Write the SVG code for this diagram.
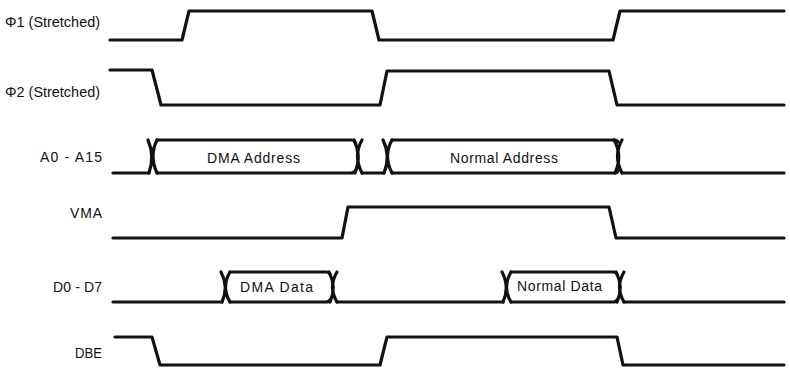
<svg xmlns="http://www.w3.org/2000/svg" width="790" height="369" viewBox="0 0 790 369">
<style>
.w{fill:none;stroke:#111;stroke-width:3.2;stroke-linejoin:round;stroke-linecap:round}
.t{font-family:"Liberation Sans",Arial,sans-serif;font-size:14px;fill:#111}
</style>
<rect width="790" height="369" fill="#fff"/>
<g id="phi1">
<text class="t" x="5" y="27" textLength="95" lengthAdjust="spacingAndGlyphs">Φ1 (Stretched)</text>
<path class="w" d="M110,40 H182 L189,11 H372 L379,40 H613 L620,11 H784"/>
</g>
<g id="phi2">
<text class="t" x="5" y="97" textLength="95" lengthAdjust="spacingAndGlyphs">Φ2 (Stretched)</text>
<path class="w" d="M110,70 H152 L161,105 H380 L387,71 H609 L617,105 H784"/>
</g>
<g id="addr">
<text class="t" x="40" y="162" textLength="62" lengthAdjust="spacing">A0 - A15</text>
<path class="w" d="M113,173 H149"/>
<path class="w" d="M148,140 Q155,156 149,173 M157,140 Q149,156 157,173"/>
<path class="w" d="M157,140 H351 Q354,140 355,142 M157,173 H351 Q354,173 355,171"/>
<path class="w" d="M354,140 Q362,156 355,173 M362,140 Q353,156 362,173"/>
<path class="w" d="M362,173 H384"/>
<path class="w" d="M383,140 Q391,156 384,173 M392,140 Q383,156 392,173"/>
<path class="w" d="M392,140 H614 Q617,140 618,142 M392,173 H614 Q617,173 618,171"/>
<path class="w" d="M614,140 Q623,156 615,173 M622,140 Q613,156 622,173"/>
<path class="w" d="M622,173 H784"/>
<text class="t" x="207" y="163" textLength="93" lengthAdjust="spacing">DMA Address</text>
<text class="t" x="450" y="163" textLength="108" lengthAdjust="spacing">Normal Address</text>
</g>
<g id="vma">
<text class="t" x="70" y="218" textLength="32" lengthAdjust="spacing">VMA</text>
<path class="w" d="M113,238 H342 L348,207 H609 L616,238 H784"/>
</g>
<g id="data">
<text class="t" x="53" y="292" textLength="49" lengthAdjust="spacing">D0 - D7</text>
<path class="w" d="M113,302 H222"/>
<path class="w" d="M221,272 Q229,287 222,302 M230,272 Q221,287 230,302"/>
<path class="w" d="M230,272 H326 Q329,272 330,274 M230,302 H326 Q329,302 330,300"/>
<path class="w" d="M329,272 Q337,287 330,302 M337,272 Q328,287 337,302"/>
<path class="w" d="M337,302 H503"/>
<path class="w" d="M502,272 Q510,287 503,302 M511,272 Q502,287 511,302"/>
<path class="w" d="M511,272 H613 Q616,272 617,274 M511,302 H613 Q616,302 617,300"/>
<path class="w" d="M616,272 Q624,287 617,302 M624,272 Q615,287 624,302"/>
<path class="w" d="M624,302 H784"/>
<text class="t" x="240" y="292" textLength="73" lengthAdjust="spacing">DMA Data</text>
<text class="t" x="517" y="291" textLength="85" lengthAdjust="spacing">Normal Data</text>
</g>
<g id="dbe">
<text class="t" x="75" y="358" textLength="27" lengthAdjust="spacingAndGlyphs">DBE</text>
<path class="w" d="M115,337 H152 L160,365 H380 L387,337 H617 L623,365 H784"/>
</g>
</svg>
